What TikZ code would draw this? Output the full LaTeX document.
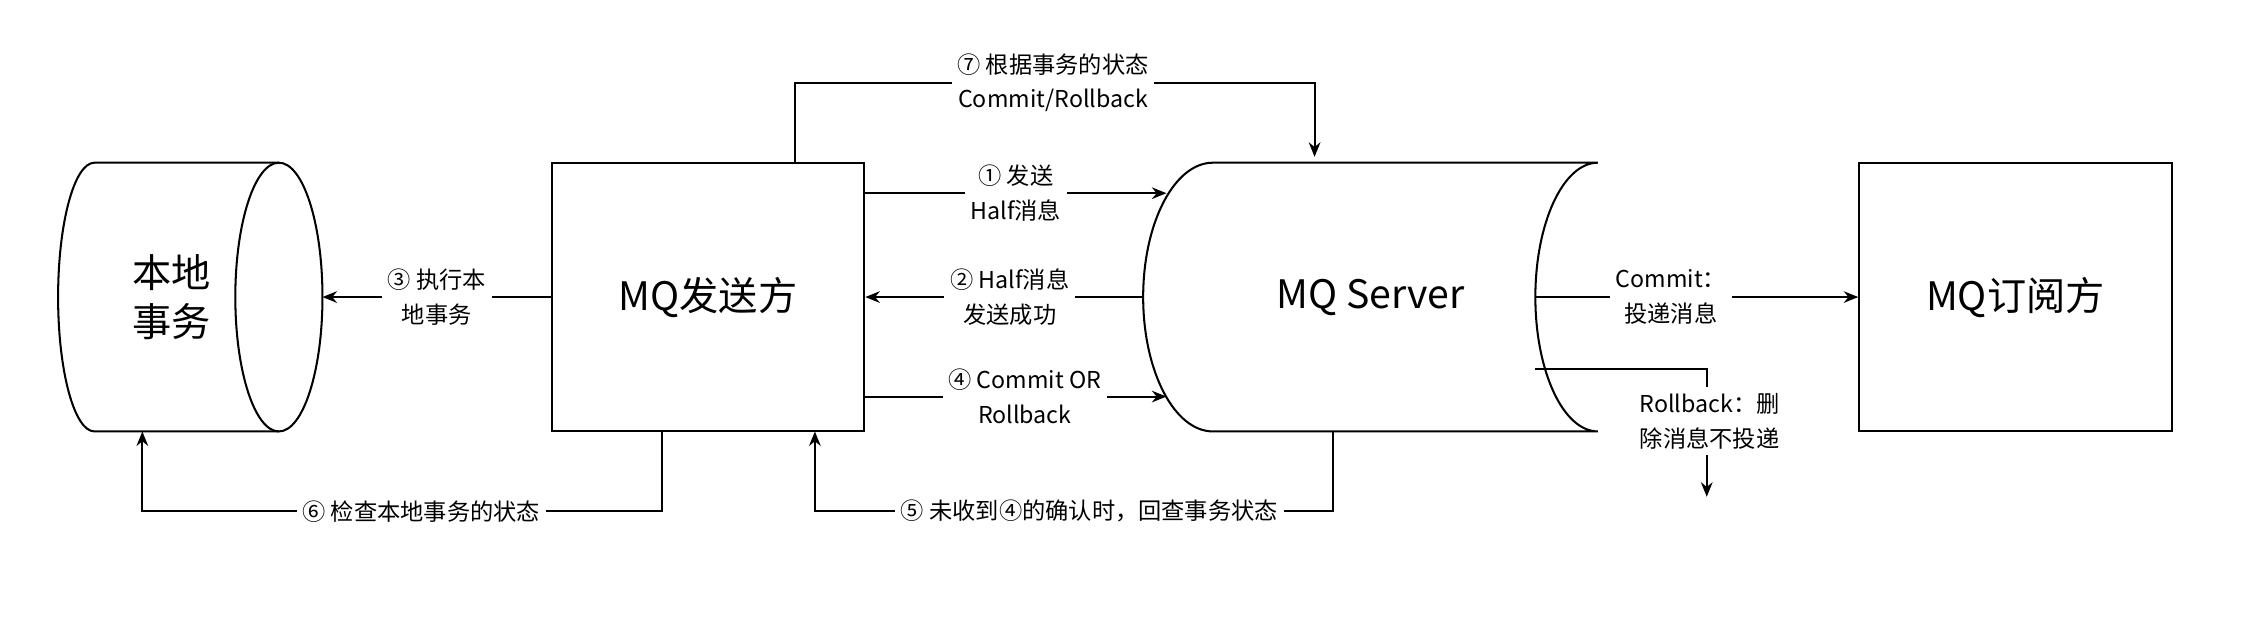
\documentclass[tikz,border=0pt]{standalone}
\usepackage{fontspec}
\setmainfont{Noto Sans CJK SC}
\usetikzlibrary{%
	positioning,
	arrows.meta
}

\begin{document}
\begin{tikzpicture}[x=0.5pt,y=-0.5pt,
		line width=0.7pt,
		Box/.style={draw,shape=rectangle,minimum width=107.5pt,minimum height=92.5pt,font=\fontsize{13.5}{16}\selectfont},
		Shape/.style={shape=rectangle,minimum width=91pt,minimum height=92.5pt,font=\fontsize{13.5}{17}\selectfont,align=center},
		lbl/.style={fill=white,inner sep=2pt,align=center,font=\fontsize{8}{12}\selectfont},
		arr/.style={-{Stealth[length=5pt,width=4pt]}}
	]
	\useasboundingbox (0,0) rectangle (1560,435);
	
	%local transaction (cylinder)
	\node(local) [Shape] at (118,204.5) {本地\\事务};
	\draw (192,112) -- (65,112) arc[start angle=90,end angle=270,x radius=12.5pt,y radius=46.25pt] -- (192,297);
	\draw (192,204.5) ellipse[x radius=15pt,y radius=46.25pt];
	
	%producer
	\node(prod) [Box] at (487.5,204.5) {MQ发送方};
	
	%server
	\node(server) [Shape,minimum width=110pt] at (943.5,204.5) {MQ Server};
	\draw (1100,112) -- (835,112) arc[start angle=90,end angle=270,x radius=24pt,y radius=46.25pt] -- (1100,297)
		arc[start angle=270,end angle=90,x radius=21.5pt,y radius=46.25pt];
	
	%consumer
	\node(cons) [Box] at (1387.5,204.5) {MQ订阅方};
	
	\coordinate(sv-w) at (787,204.5);
	\coordinate(sv-e) at (1057,204.5);
	\coordinate(lc-e) at (222,204.5);
	
	%messages
	\draw [arr] (prod.east |- 0,133) to node [lbl] {① 发送\\Half消息} (803,133);
	\draw [arr] (sv-w) to node [lbl,pos=.48] {② Half消息\\发送成功} (prod.east);
	\draw [arr] (prod.east |- 0,273) to node [lbl,pos=.53] {④ Commit OR\\Rollback} (803,273);
	\draw [arr] (prod.west) to node [lbl] {③ 执行本\\地事务} (lc-e);
	\draw [arr] (sv-e) to node [lbl,pos=.42] {Commit：\\投递消息} (cons.west);
	
	\coordinate(rb) at (1175,342);
	\draw [arr] (1057,254) -| (rb);
	\node(rb-l) [lbl] at (1177,290) {Rollback：删\\除消息不投递};
	
	\coordinate(c7) at (905,108);
	\draw [arr] (547,112) |- (725,57) node [lbl] {⑦ 根据事务的状态\\Commit/Rollback} -| (c7);
	
	\coordinate(c6) at (98,297);
	\draw [arr] (456,297) |- (290,352) node [lbl] {⑥ 检查本地事务的状态} -| (c6);
	
	\coordinate(c5) at (561,297);
	\draw [arr] (918,297) |- (750,352) node [lbl] {⑤ 未收到④的确认时，回查事务状态} -| (c5);
	
\end{tikzpicture}
\end{document}
